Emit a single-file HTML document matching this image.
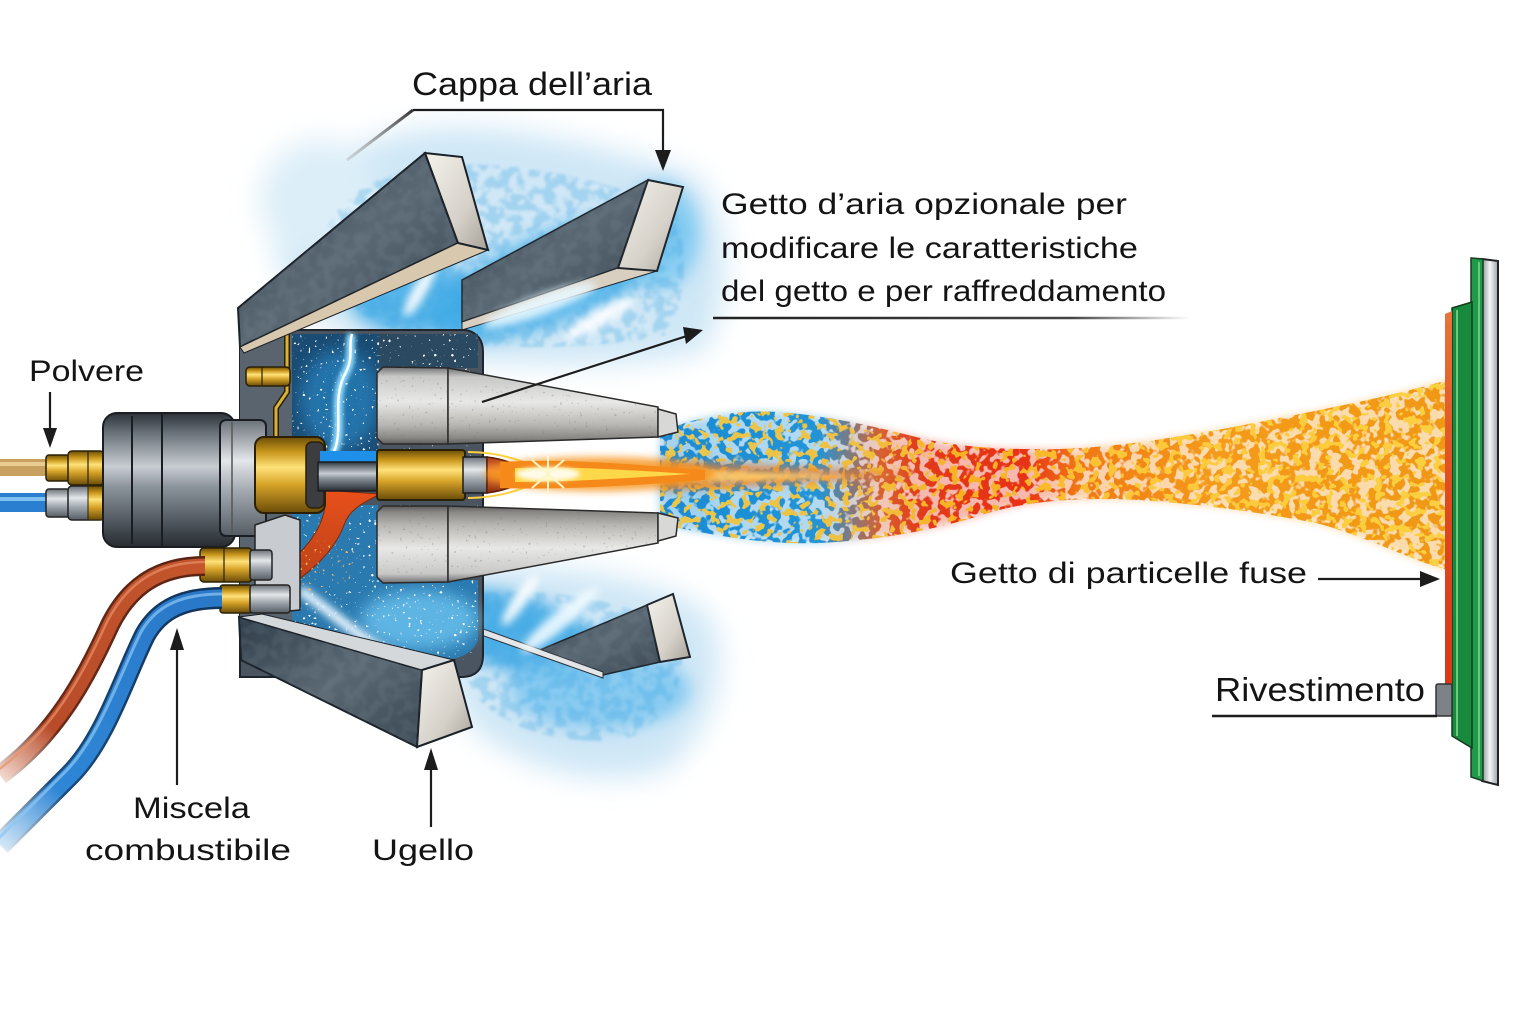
<!DOCTYPE html>
<html><head><meta charset="utf-8">
<style>html,body{margin:0;padding:0;background:#fff;}svg{display:block}</style>
</head><body>
<svg width="1536" height="1024" viewBox="0 0 1536 1024" xmlns="http://www.w3.org/2000/svg">
<defs>
 <filter id="b14" x="-50%" y="-50%" width="200%" height="200%"><feGaussianBlur stdDeviation="14"/></filter>
 <filter id="b8" x="-50%" y="-50%" width="200%" height="200%"><feGaussianBlur stdDeviation="8"/></filter>
 <filter id="b4" x="-50%" y="-50%" width="200%" height="200%"><feGaussianBlur stdDeviation="4"/></filter>
 <filter id="b2" x="-50%" y="-50%" width="200%" height="200%"><feGaussianBlur stdDeviation="2"/></filter>
 <filter id="speck" filterUnits="userSpaceOnUse" x="0" y="0" width="1536" height="1024">
  <feTurbulence type="fractalNoise" baseFrequency="0.1" numOctaves="2" seed="4" result="n"/>
  <feColorMatrix in="n" type="matrix" values="0 0 0 0 0 0 0 0 0 0 0 0 0 0 0 16 0 0 0 -7.2" result="m"/>
  <feComposite in="SourceGraphic" in2="m" operator="in"/>
 </filter>
 <filter id="speckY" filterUnits="userSpaceOnUse" x="0" y="0" width="1536" height="1024">
  <feTurbulence type="fractalNoise" baseFrequency="0.12" numOctaves="2" seed="11" result="n"/>
  <feColorMatrix in="n" type="matrix" values="0 0 0 0 0 0 0 0 0 0 0 0 0 0 0 20 0 0 0 -11.2" result="m"/>
  <feComposite in="SourceGraphic" in2="m" operator="in"/>
 </filter>
 <filter id="speckW" filterUnits="userSpaceOnUse" x="0" y="0" width="1536" height="1024">
  <feTurbulence type="fractalNoise" baseFrequency="0.35" numOctaves="1" seed="7" result="n"/>
  <feColorMatrix in="n" type="matrix" values="0 0 0 0 0 0 0 0 0 0 0 0 0 0 0 30 0 0 0 -20.5" result="m"/>
  <feComposite in="SourceGraphic" in2="m" operator="in"/>
 </filter>
 <filter id="speckM" filterUnits="userSpaceOnUse" x="0" y="0" width="1536" height="1024">
  <feTurbulence type="fractalNoise" baseFrequency="0.09" numOctaves="3" seed="2" result="n"/>
  <feColorMatrix in="n" type="matrix" values="0 0 0 0 0 0 0 0 0 0 0 0 0 0 0 8 0 0 0 -3.6" result="m"/>
  <feComposite in="SourceGraphic" in2="m" operator="in" result="c"/>
  <feGaussianBlur in="c" stdDeviation="1.2"/>
 </filter>
 <linearGradient id="metal" x1="0" y1="0" x2="0" y2="1">
  <stop offset="0" stop-color="#2c3238"/><stop offset="0.15" stop-color="#6a727a"/><stop offset="0.4" stop-color="#c8cdd2"/><stop offset="0.55" stop-color="#8c949c"/><stop offset="0.85" stop-color="#474e55"/><stop offset="1" stop-color="#262b30"/>
 </linearGradient>
 <linearGradient id="metalL" x1="0" y1="0" x2="0" y2="1">
  <stop offset="0" stop-color="#6a7178"/><stop offset="0.35" stop-color="#e4e7ea"/><stop offset="0.6" stop-color="#a4abb2"/><stop offset="1" stop-color="#555c63"/>
 </linearGradient>
 <linearGradient id="brass" x1="0" y1="0" x2="0" y2="1">
  <stop offset="0" stop-color="#6b4e08"/><stop offset="0.2" stop-color="#c9971c"/><stop offset="0.4" stop-color="#ffe27a"/><stop offset="0.62" stop-color="#d8a52a"/><stop offset="1" stop-color="#6a4c08"/>
 </linearGradient>
 <linearGradient id="slate" x1="0" y1="0" x2="1" y2="1">
  <stop offset="0" stop-color="#2f3d4a"/><stop offset="0.5" stop-color="#5a6873"/><stop offset="1" stop-color="#3a4854"/>
 </linearGradient>
 <linearGradient id="endf" x1="0" y1="0" x2="1" y2="1">
  <stop offset="0" stop-color="#f4f2ec"/><stop offset="0.6" stop-color="#d6d2ca"/><stop offset="1" stop-color="#a8a298"/>
 </linearGradient>
 <linearGradient id="cone" x1="0" y1="0" x2="0" y2="1">
  <stop offset="0" stop-color="#6e7072"/><stop offset="0.12" stop-color="#c8c8c6"/><stop offset="0.45" stop-color="#e8e8e6"/><stop offset="0.75" stop-color="#b8b6b2"/><stop offset="0.92" stop-color="#8a8884"/><stop offset="1" stop-color="#5a5a58"/>
 </linearGradient>
 <linearGradient id="spray" gradientUnits="userSpaceOnUse" x1="660" y1="0" x2="1450" y2="0">
  <stop offset="0" stop-color="#1a8ad4"/><stop offset="0.2" stop-color="#2294d6"/><stop offset="0.28" stop-color="#d86030"/><stop offset="0.33" stop-color="#e23a1a"/><stop offset="0.46" stop-color="#e83018"/><stop offset="0.53" stop-color="#f07818"/><stop offset="0.7" stop-color="#f59a1a"/><stop offset="1" stop-color="#f09818"/>
 </linearGradient>
 <linearGradient id="sprayY" gradientUnits="userSpaceOnUse" x1="660" y1="0" x2="1450" y2="0">
  <stop offset="0" stop-color="#e8c850"/><stop offset="0.25" stop-color="#f0c040"/><stop offset="0.4" stop-color="#f8b020"/><stop offset="0.6" stop-color="#fcc83a"/><stop offset="1" stop-color="#fbd040"/>
 </linearGradient>
 <linearGradient id="redHose" gradientUnits="userSpaceOnUse" x1="200" y1="566" x2="0" y2="780">
  <stop offset="0" stop-color="#c4552c"/><stop offset="0.75" stop-color="#b84c2a"/><stop offset="1" stop-color="#f4ded4"/>
 </linearGradient>
 <linearGradient id="redHoseD" gradientUnits="userSpaceOnUse" x1="200" y1="566" x2="0" y2="780">
  <stop offset="0" stop-color="#5a2414"/><stop offset="0.75" stop-color="#6a2a18"/><stop offset="1" stop-color="#f6e6de"/>
 </linearGradient>
 <linearGradient id="blueHose" gradientUnits="userSpaceOnUse" x1="220" y1="598" x2="0" y2="850">
  <stop offset="0" stop-color="#2a78c8"/><stop offset="0.75" stop-color="#2f86d6"/><stop offset="1" stop-color="#dcecf8"/>
 </linearGradient>
 <linearGradient id="blueHoseD" gradientUnits="userSpaceOnUse" x1="220" y1="598" x2="0" y2="850">
  <stop offset="0" stop-color="#12345a"/><stop offset="0.75" stop-color="#1a4a7a"/><stop offset="1" stop-color="#e6f0f8"/>
 </linearGradient>
 <linearGradient id="fade" gradientUnits="userSpaceOnUse" x1="713" y1="0" x2="1190" y2="0">
  <stop offset="0" stop-color="#222"/><stop offset="0.75" stop-color="#444"/><stop offset="1" stop-color="#444" stop-opacity="0"/>
 </linearGradient>
 <linearGradient id="fade2" gradientUnits="userSpaceOnUse" x1="413" y1="110" x2="347" y2="160">
  <stop offset="0" stop-color="#333"/><stop offset="1" stop-color="#999" stop-opacity="0.3"/>
 </linearGradient>
 <linearGradient id="silver" x1="0" y1="0" x2="1" y2="0">
  <stop offset="0" stop-color="#8e959c"/><stop offset="0.5" stop-color="#f4f6f8"/><stop offset="1" stop-color="#9aa1a8"/>
 </linearGradient>
 <linearGradient id="coat" x1="0" y1="0" x2="0" y2="1">
  <stop offset="0" stop-color="#e8743a"/><stop offset="0.5" stop-color="#e04a1e"/><stop offset="1" stop-color="#d83818"/>
 </linearGradient>
 <linearGradient id="tip" x1="0" y1="0" x2="0" y2="1">
  <stop offset="0" stop-color="#a83810"/><stop offset="0.4" stop-color="#f08a40"/><stop offset="1" stop-color="#8a2a0a"/>
 </linearGradient>
 <linearGradient id="molten" x1="0" y1="0" x2="0" y2="1">
  <stop offset="0" stop-color="#e8501a"/><stop offset="1" stop-color="#b8401a"/>
 </linearGradient>
</defs>

<rect width="1536" height="1024" fill="#fff"/>

<!-- ===== mist clouds ===== -->
<g filter="url(#b14)">
 <path d="M275,250 C280,180 330,145 420,130 C500,120 600,145 695,175 C735,220 730,300 705,350 C640,370 520,365 440,360 C360,350 290,320 275,250 Z" fill="#cfe7f6"/>
 <ellipse cx="320" cy="200" rx="60" ry="60" fill="#dcEEf8"/>
 <path d="M440,570 C520,560 640,570 705,610 C735,660 715,730 665,770 C600,790 520,770 470,725 C440,680 430,620 440,570 Z" fill="#cfe7f6"/>
</g>
<g filter="url(#b8)">
 <ellipse cx="560" cy="275" rx="135" ry="45" fill="#4cb2ea" transform="rotate(-22 560 275)" opacity="0.9"/>
 <ellipse cx="420" cy="300" rx="70" ry="35" fill="#40aae6" opacity="0.85"/>
 <ellipse cx="660" cy="235" rx="40" ry="55" fill="#7cc8f0" opacity="0.8"/>
 <ellipse cx="520" cy="635" rx="90" ry="38" fill="#40aae6" transform="rotate(18 520 635)" opacity="0.9"/>
 <ellipse cx="600" cy="690" rx="90" ry="40" fill="#7cc6f0" opacity="0.85"/>
</g>
<g filter="url(#speckM)" opacity="0.3">
 <path d="M320,250 C330,200 370,175 430,165 C520,160 610,180 675,210 C690,255 685,310 665,335 C600,350 490,350 430,340 C365,325 325,295 320,250 Z" fill="#3ea6e2"/>
 <path d="M460,595 C540,585 630,600 680,630 C690,680 670,720 625,740 C560,745 505,730 475,695 C458,660 452,625 460,595 Z" fill="#3ea6e2"/>
</g>

<!-- ===== right bars (behind) ===== -->
<polygon points="462,280 648,180 618,268 462,322" fill="url(#slate)" stroke="#1e252c" stroke-width="1.5"/>
<polygon points="462,322 618,268 657,271 462,330" fill="#d9cfc0" stroke="#1e252c" stroke-width="1"/>
<polygon points="648,180 683,187 657,271 618,268" fill="url(#endf)" stroke="#1e252c" stroke-width="2"/>

<polygon points="540,650 647,605 660,662 603,675" fill="url(#slate)" stroke="#1e252c" stroke-width="1.5"/>
<polygon points="453,618 603,672 603,678 450,624" fill="#e4e6e8" stroke="#2a3038" stroke-width="1"/>
<polygon points="647,605 673,594 690,657 660,662" fill="url(#endf)" stroke="#1e252c" stroke-width="2"/>

<!-- cyan streaks -->
<g filter="url(#b4)" opacity="0.9">
 <ellipse cx="540" cy="305" rx="60" ry="10" fill="#e8f8ff" transform="rotate(-20 540 305)"/>
 <ellipse cx="600" cy="318" rx="40" ry="8" fill="#ffffff" transform="rotate(-30 600 318)"/>
 <ellipse cx="420" cy="290" rx="30" ry="7" fill="#ffffff" transform="rotate(-60 420 290)"/>
 <ellipse cx="560" cy="620" rx="50" ry="9" fill="#f0faff" transform="rotate(-40 560 620)"/>
 <ellipse cx="520" cy="600" rx="30" ry="7" fill="#ffffff" transform="rotate(-55 520 600)"/>
</g>

<!-- ===== plate ===== -->
<path d="M240,330 L466,330 Q483,334 483,352 L483,655 Q483,676 463,677 L240,677 Z" fill="#4a5561" stroke="#1e252c" stroke-width="2"/>
<rect x="240" y="330" width="52" height="290" fill="#5a646e"/>
<path d="M292,334 L466,334 Q478,338 478,352 L478,368 L378,368 L378,456 L292,456 Z" fill="#1a4c74"/>
<rect x="378" y="334" width="100" height="34" fill="#2b4a62"/>
<ellipse cx="340" cy="400" rx="40" ry="50" fill="#2a8ed0" opacity="0.6" filter="url(#b8)"/>
<path d="M292,505 L378,505 L378,580 L478,580 L478,640 Q470,660 440,660 L292,660 Z" fill="#2a7ab0"/>
<ellipse cx="420" cy="620" rx="60" ry="30" fill="#6cc4f0" opacity="0.8" filter="url(#b8)"/>
<g filter="url(#speckW)">
 <rect x="292" y="334" width="186" height="122" fill="#ffffff"/>
 <rect x="292" y="505" width="186" height="155" fill="#ffffff"/>
</g>
<path d="M332,456 C346,430 330,400 346,372 C354,356 348,345 352,334" fill="none" stroke="#8fdcff" stroke-width="9" filter="url(#b2)"/>
<path d="M332,456 C346,430 330,400 346,372 C354,356 348,345 352,334" fill="none" stroke="#ffffff" stroke-width="2.5"/>
<path d="M300,590 C330,610 360,640 400,660" fill="none" stroke="#e8f6ff" stroke-width="10" filter="url(#b4)"/>

<path d="M287,334 L287,392 L276,408 L276,436" fill="none" stroke="#2a2006" stroke-width="6"/>
<path d="M287,334 L287,392 L276,408 L276,436" fill="none" stroke="#d8b03a" stroke-width="3"/>
<path d="M282,520 L284,610" fill="none" stroke="#2a2006" stroke-width="6"/>
<path d="M282,520 L284,610" fill="none" stroke="#d8b03a" stroke-width="3"/>
<rect x="246" y="367" width="44" height="19" rx="4" fill="url(#brass)" stroke="#2a2006" stroke-width="1.5"/>
<line x1="262" y1="367" x2="262" y2="386" stroke="#2a2006" stroke-width="1.2"/>

<!-- ===== left bars ===== -->
<polygon points="238,308 425,153 458,243 240,347" fill="url(#slate)" stroke="#1a2027" stroke-width="2"/>
<polygon points="240,347 458,243 488,250 244,353" fill="#d8c8ae" stroke="#1a2027" stroke-width="1"/>
<polygon points="425,153 462,157 488,250 458,243" fill="url(#endf)" stroke="#1a2027" stroke-width="2"/>

<polygon points="239,617 422,670 417,747 241,660" fill="url(#slate)" stroke="#1a2027" stroke-width="2"/>
<polygon points="239,617 262,614 454,660 422,670" fill="#d4d8da" stroke="#1a2027" stroke-width="1"/>
<polygon points="422,670 454,660 472,727 417,747" fill="url(#endf)" stroke="#1a2027" stroke-width="2"/>
<g filter="url(#speckM)" opacity="0.12">
 <polygon points="238,308 425,153 458,243 240,347" fill="#9aa8b4"/>
 <polygon points="239,617 422,670 417,747 241,660" fill="#9aa8b4"/>
 <polygon points="462,280 648,180 618,268 462,322" fill="#9aa8b4"/>
 <polygon points="540,650 647,605 660,662 603,675" fill="#9aa8b4"/>
</g>

<!-- ===== spray ===== -->
<path d="M660,432 C700,416 740,408 790,413 C840,418 880,428 920,438 C960,447 1000,450 1060,449 C1140,446 1220,430 1320,410 C1380,398 1420,388 1448,380 L1448,570 C1410,560 1370,538 1320,524 C1260,512 1200,504 1140,500 C1080,497 1030,500 985,514 C935,530 880,540 820,543 C770,545 720,537 660,524 Z" fill="url(#spray)" opacity="0.35" filter="url(#b4)"/>
<ellipse cx="690" cy="478" rx="30" ry="45" fill="#8ccaf0" opacity="0.5" filter="url(#b8)"/>
<g filter="url(#speck)">
 <path d="M660,432 C700,416 740,408 790,413 C840,418 880,428 920,438 C960,447 1000,450 1060,449 C1140,446 1220,430 1320,410 C1380,398 1420,388 1448,380 L1448,570 C1410,560 1370,538 1320,524 C1260,512 1200,504 1140,500 C1080,497 1030,500 985,514 C935,530 880,540 820,543 C770,545 720,537 660,524 Z" fill="url(#spray)"/>
</g>
<g filter="url(#speckY)">
 <path d="M660,432 C700,416 740,408 790,413 C840,418 880,428 920,438 C960,447 1000,450 1060,449 C1140,446 1220,430 1320,410 C1380,398 1420,388 1448,380 L1448,570 C1410,560 1370,538 1320,524 C1260,512 1200,504 1140,500 C1080,497 1030,500 985,514 C935,530 880,540 820,543 C770,545 720,537 660,524 Z" fill="url(#sprayY)"/>
</g>
<path d="M660,462 C740,462 820,468 920,474 C820,482 740,488 660,490 Z" fill="#e07a30" opacity="0.75" filter="url(#b4)"/>
<path d="M660,470 C740,470 800,474 860,476 C800,479 740,482 660,482 Z" fill="#ffd070" opacity="0.8" filter="url(#b2)"/>

<!-- ===== cones ===== -->
<g stroke="#2a2a2a" stroke-width="1.5">
 <polygon points="377,373 383,367 448,368 448,444 383,444 377,438" fill="url(#cone)"/>
 <polygon points="448,368 658,407 658,437 448,444" fill="url(#cone)"/>
 <polygon points="658,409 676,414 678,432 658,437" fill="#d8d8d6"/>
</g>
<g transform="matrix(1,0,0,-1,0,950)" stroke="#2a2a2a" stroke-width="1.5">
 <polygon points="377,373 383,367 448,368 448,444 383,444 377,438" fill="url(#cone)"/>
 <polygon points="448,368 658,407 658,437 448,444" fill="url(#cone)"/>
 <polygon points="658,409 676,414 678,432 658,437" fill="#d8d8d6"/>
</g>
<g filter="url(#speckW)" opacity="0.3">
 <polygon points="377,370 658,407 658,437 377,444" fill="#777"/>
 <polygon points="377,506 658,513 658,543 377,580" fill="#777"/>
</g>

<!-- ===== molten flow ===== -->
<path d="M322,490 L380,494 C365,502 350,508 344,525 C334,552 312,570 290,586 L276,574 C296,558 318,538 324,512 C326,502 322,496 322,490 Z" fill="url(#molten)" stroke="#7a2a0a" stroke-width="1"/>
<g filter="url(#speckW)">
 <ellipse cx="322" cy="565" rx="35" ry="28" fill="#ffb050"/>
</g>

<!-- ===== gun body ===== -->
<rect x="0" y="459" width="48" height="17" fill="#c8a060"/>
<rect x="0" y="462" width="48" height="4" fill="#e8cc90"/>
<rect x="46" y="455" width="24" height="26" rx="3" fill="url(#brass)" stroke="#2a2006" stroke-width="1.5"/>
<rect x="68" y="451" width="36" height="34" rx="4" fill="url(#brass)" stroke="#2a2006" stroke-width="1.5"/>
<line x1="88" y1="451" x2="88" y2="485" stroke="#2a2006" stroke-width="1.2"/>
<rect x="0" y="493" width="48" height="19" fill="#2a7fd0"/>
<rect x="0" y="497" width="48" height="4" fill="#7ec0f0"/>
<rect x="46" y="489" width="24" height="28" rx="3" fill="url(#metalL)" stroke="#222" stroke-width="1.5"/>
<rect x="68" y="486" width="36" height="34" rx="4" fill="url(#metalL)" stroke="#222" stroke-width="1.5"/>
<rect x="88" y="486" width="16" height="34" fill="url(#brass)" stroke="#2a2006" stroke-width="1"/>
<rect x="103" y="413" width="132" height="134" rx="14" fill="url(#metal)" stroke="#1a1e22" stroke-width="2"/>
<line x1="132" y1="416" x2="132" y2="544" stroke="#1a1e22" stroke-width="2"/>
<line x1="162" y1="414" x2="162" y2="546" stroke="#1a1e22" stroke-width="2"/>
<rect x="220" y="420" width="46" height="116" rx="6" fill="url(#metalL)" stroke="#1a1e22" stroke-width="2"/>
<line x1="232" y1="422" x2="232" y2="534" stroke="#555" stroke-width="1.5"/>
<rect x="255" y="437" width="70" height="76" rx="9" fill="url(#brass)" stroke="#2a2006" stroke-width="2"/>
<rect x="306" y="442" width="18" height="66" rx="6" fill="#3b3d40" stroke="#2a2006" stroke-width="1.5"/>
<rect x="320" y="451" width="60" height="12" fill="#1e90ea"/>
<rect x="318" y="462" width="64" height="29" fill="url(#metal)" stroke="#1a1e22" stroke-width="1.5"/>
<rect x="377" y="450" width="88" height="50" rx="3" fill="url(#brass)" stroke="#2a2006" stroke-width="2"/>
<rect x="463" y="457" width="24" height="36" fill="url(#metalL)" stroke="#1a1e22" stroke-width="1.5"/>
<path d="M487,457 C510,460 524,468 532,475 C524,482 510,490 487,493 Z" fill="url(#tip)" stroke="#5a1a05" stroke-width="1.5"/>
<path d="M468,452 C505,452 535,465 548,475 C535,485 505,498 468,498" fill="none" stroke="#ffd040" stroke-width="2"/>

<!-- flame -->
<ellipse cx="600" cy="474" rx="115" ry="17" fill="#f7941d" opacity="0.85" filter="url(#b4)"/>
<path d="M500,462 C560,458 630,464 705,470 L705,480 C630,486 560,490 500,488 Z" fill="#f58a1a"/>
<path d="M515,468 C570,466 630,470 690,474 C630,478 570,482 515,482 Z" fill="#ffd84a"/>
<ellipse cx="548" cy="474" rx="32" ry="7" fill="#fffbe8" filter="url(#b2)"/>
<g stroke="#fff6c8" stroke-width="2">
 <line x1="548" y1="456" x2="548" y2="492"/><line x1="532" y1="460" x2="564" y2="488"/><line x1="532" y1="488" x2="564" y2="460"/>
</g>

<!-- lower fittings -->
<polygon points="255,525 285,515 300,520 300,610 278,612 255,600" fill="#c8ccd0" stroke="#222" stroke-width="1.5"/>
<rect x="200" y="548" width="52" height="34" rx="4" fill="url(#brass)" stroke="#2a2006" stroke-width="1.5"/>
<line x1="224" y1="548" x2="224" y2="582" stroke="#2a2006" stroke-width="1.2"/>
<rect x="250" y="550" width="22" height="30" rx="3" fill="url(#metalL)" stroke="#222" stroke-width="1.5"/>
<rect x="220" y="585" width="32" height="28" rx="3" fill="url(#brass)" stroke="#2a2006" stroke-width="1.5"/>
<rect x="250" y="585" width="40" height="28" rx="3" fill="url(#metalL)" stroke="#222" stroke-width="1.5"/>

<!-- hoses -->
<path d="M205,566 C160,566 130,585 110,625 C85,680 55,735 0,775" fill="none" stroke="url(#redHoseD)" stroke-width="20"/>
<path d="M205,566 C160,566 130,585 110,625 C85,680 55,735 0,775" fill="none" stroke="url(#redHose)" stroke-width="15"/>
<path d="M205,562 C160,562 128,581 107,622 C82,677 52,731 -2,770" fill="none" stroke="#e8906a" stroke-width="2.5" opacity="0.7"/>
<path d="M222,598 C185,598 160,608 145,635 C125,675 105,740 70,775 C45,800 20,825 0,845" fill="none" stroke="url(#blueHoseD)" stroke-width="22"/>
<path d="M222,598 C185,598 160,608 145,635 C125,675 105,740 70,775 C45,800 20,825 0,845" fill="none" stroke="url(#blueHose)" stroke-width="17"/>
<path d="M222,594 C184,594 157,604 141,632 C121,672 100,736 66,771 C41,796 16,821 -4,841" fill="none" stroke="#8cc8f4" stroke-width="3" opacity="0.7"/>

<!-- ===== target ===== -->
<polygon points="1482,259 1498,261 1498,785 1482,781" fill="url(#silver)" stroke="#222" stroke-width="2"/>
<polygon points="1471,258 1483,259 1483,781 1471,777" fill="#1f9a48" stroke="#1a3a22" stroke-width="1.5"/>
<line x1="1479" y1="262" x2="1479" y2="776" stroke="#7ed88e" stroke-width="1.5"/>
<polygon points="1452,308 1472,302 1472,748 1452,736" fill="#178a3e" stroke="#143a20" stroke-width="1.5"/>
<line x1="1457" y1="310" x2="1457" y2="736" stroke="#6cca7c" stroke-width="2"/>
<polygon points="1445,314 1452,311 1452,690 1445,690" fill="url(#coat)"/>
<rect x="1436" y="684" width="16" height="32" rx="2" fill="#7c8288" stroke="#333" stroke-width="1.5"/>

<!-- ===== labels & arrows ===== -->
<g font-family="'Liberation Sans', Arial, sans-serif" fill="#141414">
 <text x="412" y="95" font-size="32" textLength="240" lengthAdjust="spacingAndGlyphs">Cappa dell’aria</text>
 <text x="721" y="214" font-size="30" textLength="406" lengthAdjust="spacingAndGlyphs">Getto d’aria opzionale per</text>
 <text x="721" y="258" font-size="30" textLength="417" lengthAdjust="spacingAndGlyphs">modificare le caratteristiche</text>
 <text x="721" y="301" font-size="30" textLength="445" lengthAdjust="spacingAndGlyphs">del getto e per raffreddamento</text>
 <text x="29" y="381" font-size="30" textLength="115" lengthAdjust="spacingAndGlyphs">Polvere</text>
 <text x="950" y="583" font-size="30" textLength="357" lengthAdjust="spacingAndGlyphs">Getto di particelle fuse</text>
 <text x="1215" y="701" font-size="33" textLength="210" lengthAdjust="spacingAndGlyphs">Rivestimento</text>
 <text x="133" y="818" font-size="30" textLength="117" lengthAdjust="spacingAndGlyphs">Miscela</text>
 <text x="85" y="860" font-size="30" textLength="206" lengthAdjust="spacingAndGlyphs">combustibile</text>
 <text x="372" y="860" font-size="30" textLength="102" lengthAdjust="spacingAndGlyphs">Ugello</text>
</g>
<g stroke="#1c1c1c" stroke-width="2.2" fill="none">
 <line x1="413" y1="110" x2="347" y2="160" stroke="url(#fade2)" stroke-width="3"/>
 <polyline points="413,110 663,110 663,156"/>
 <line x1="482" y1="402" x2="690" y2="335"/>
 <line x1="50" y1="392" x2="50" y2="432"/>
 <line x1="177" y1="785" x2="177" y2="644"/>
 <line x1="431" y1="827" x2="431" y2="764"/>
 <line x1="1318" y1="579" x2="1424" y2="579"/>
 <line x1="1212" y1="716" x2="1437" y2="716" stroke-width="2.5"/>
 <line x1="713" y1="318" x2="1190" y2="318" stroke="url(#fade)" stroke-width="2.5"/>
</g>
<g fill="#1c1c1c">
 <polygon points="655,150 671,150 663,171"/>
 <polygon points="703,330 686,344 683,327"/>
 <polygon points="43,428 57,428 50,448"/>
 <polygon points="170,650 184,650 177,628"/>
 <polygon points="424,770 438,770 431,748"/>
 <polygon points="1420,571 1420,587 1440,579"/>
</g>
</svg>
</body></html>
